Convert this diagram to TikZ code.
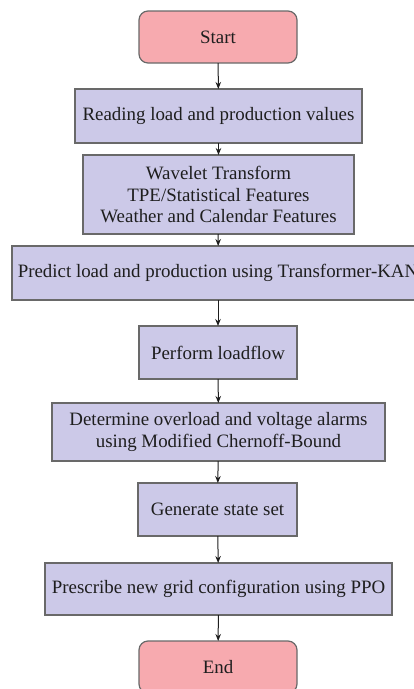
\documentclass[tikz,border=0pt]{standalone}
\usepackage{fontspec}
\setmainfont{Liberation Serif}
\newfontfamily\boxfont{Liberation Serif}
\usetikzlibrary{arrows.meta,positioning}
\definecolor{termfill}{RGB}{247,170,175}
\definecolor{procfill}{RGB}{204,201,232}
\definecolor{edgegray}{RGB}{105,105,105}
\definecolor{inkgray}{RGB}{30,30,30}
\begin{document}
\begin{tikzpicture}[x=1pt,y=1pt,
  every node/.style={font=\boxfont\fontsize{18.9}{21.5}\selectfont, text=inkgray, align=center,
    inner sep=0pt, outer sep=0pt, line width=1.2pt, draw=edgegray},
  termbox/.style={fill=termfill, rounded corners=9pt},
  procbox/.style={fill=procfill},
  flow/.style={draw=inkgray, line width=1pt, -{Stealth[length=7pt,width=5.5pt]}}]
\useasboundingbox (0,0) rectangle (414,-689);
\node[termbox, minimum width=158, minimum height=52] (start) at (218,-37) {Start};
\node[procbox, minimum width=287, minimum height=54] (read) at (218.5,-116) {Reading load and production values};
\node[procbox, minimum width=271, minimum height=79] (feat) at (218.5,-194.5) {Wavelet Transform\\TPE/Statistical Features\\Weather and Calendar Features};
\node[procbox, minimum width=412, minimum height=54] (pred) at (218,-273) {Predict load and production using Transformer-KAN};
\node[procbox, minimum width=158, minimum height=53] (lf) at (218,-352.5) {Perform loadflow};
\node[procbox, minimum width=333, minimum height=58] (alarm) at (218.5,-432) {Determine overload and voltage alarms\\using Modified Chernoff-Bound};
\node[procbox, minimum width=159, minimum height=53] (state) at (217.5,-509.5) {Generate state set};
\node[procbox, minimum width=347, minimum height=52] (ppo) at (218.5,-589) {Prescribe new grid configuration using PPO};
\node[termbox, minimum width=158, minimum height=52] (end) at (218,-667) {End};
\draw[flow] (start) -- (read);
\draw[flow] (read) -- (feat);
\draw[flow] (feat) -- (pred);
\draw[flow] (pred) -- (lf);
\draw[flow] (lf) -- (alarm);
\draw[flow] (alarm) -- (state);
\draw[flow] (state) -- (ppo);
\draw[flow] (ppo) -- (end);
\end{tikzpicture}
\end{document}
